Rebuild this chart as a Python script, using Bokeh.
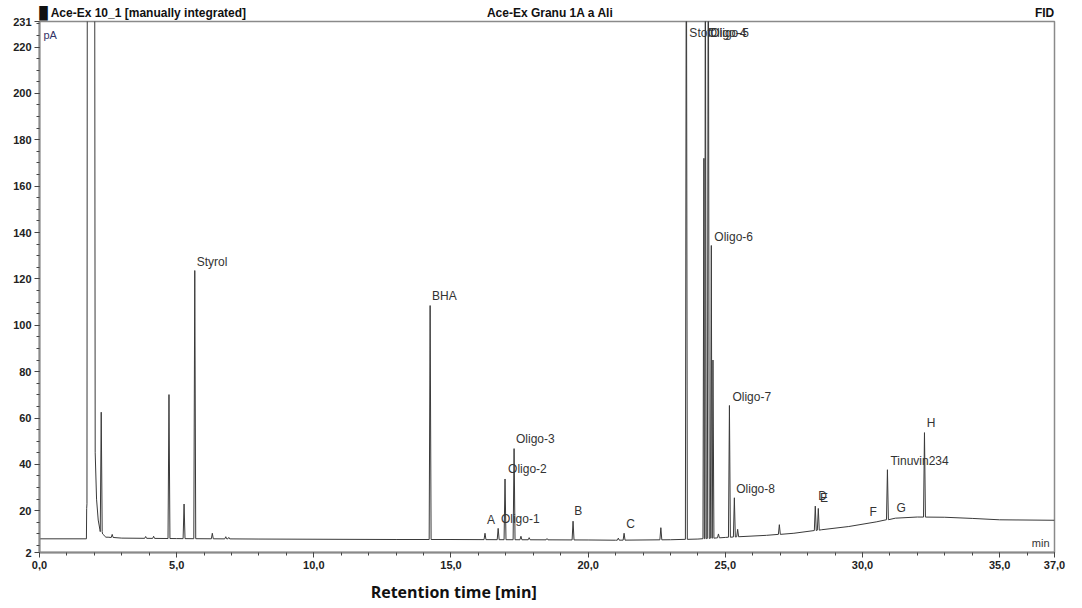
import numpy as np
from bokeh.plotting import figure
from bokeh.models import Range1d, FixedTicker, Label, ColumnDataSource, LinearAxis
from bokeh.core.properties import value
from bokeh.embed import file_html
from bokeh.resources import INLINE

# ---------------- data ----------------
# baseline knots (retention time [min], signal [pA])
base_t = [0.0, 1.70, 2.5, 3.0, 5.0, 8.0, 13.0, 15.0, 20.0, 21.0, 23.0, 24.0, 25.0,
          25.5, 26.5, 27.5, 28.5, 29.5, 30.5, 31.2, 32.0, 33.0, 34.0, 35.0, 37.0]
base_v = [7.9, 7.9, 8.6, 8.2, 8.0, 7.8, 7.6, 7.6, 7.4, 7.3, 7.5, 7.8, 8.5,
          8.8, 9.4, 10.3, 11.8, 13.2, 15.2, 16.8, 17.3, 17.2, 16.7, 16.1, 15.9]

# solvent front (off scale)
solvent_t = [1.71, 1.72, 1.73, 1.75, 2.00, 2.03, 2.08, 2.14, 2.20, 2.30, 2.42]
solvent_v = [7.9, 21.0, 23.0, 400.0, 400.0, 45.0, 25.0, 16.0, 12.0, 10.0, 8.6]

# peaks: retention time [min], apex signal [pA]
peak_t = [2.25, 2.65, 3.87, 4.16, 4.72, 5.27, 5.66, 6.30, 6.79, 6.90,
          14.24, 16.24, 16.72, 16.97, 17.30, 17.55, 17.85, 18.50, 19.45,
          21.10, 21.31, 22.65, 23.58, 24.22, 24.27, 24.38, 24.49, 24.55,
          24.75, 25.15, 25.33, 25.45, 26.97, 28.28, 28.39, 30.91, 32.26]
peak_v = [62.5, 9.8, 8.9, 9.0, 70.1, 22.9, 123.6, 10.3, 8.8, 8.5,
          108.5, 10.3, 12.4, 33.7, 46.8, 9.0, 8.4, 8.0, 15.5,
          8.2, 10.3, 12.7, 300.0, 172.0, 300.0, 300.0, 134.4, 85.0,
          10.0, 65.4, 25.6, 12.0, 14.0, 22.0, 21.0, 37.7, 53.7]

# peak annotations: text, left edge time, vertical centre [pA]
ann_text = ["Styrol", "BHA", "A", "Oligo-1", "Oligo-2", "Oligo-3", "B", "C",
            "Stoff", "Oligo-4", "Oligo-5", "Oligo-6", "Oligo-7", "Oligo-8",
            "D", "E", "F", "Tinuvin234", "G", "H"]
ann_t = [5.73, 14.31, 16.31, 16.82, 17.08, 17.37, 19.49, 21.39,
         23.69, 24.36, 24.45, 24.60, 25.26, 25.40,
         28.39, 28.45, 30.26, 31.02, 31.24, 32.34]
ann_v = [127.4, 112.5, 16.1, 16.6, 37.8, 51.0, 20.0, 14.4,
         226.0, 226.0, 226.0, 137.9, 69.1, 29.5,
         26.3, 25.6, 19.3, 41.6, 21.0, 58.0]

x_major = [0, 5, 10, 15, 20, 25, 30, 35, 37]
x_labels = ["0,0", "5,0", "10,0", "15,0", "20,0", "25,0", "30,0", "35,0", "37,0"]
y_major = [2, 20, 40, 60, 80, 100, 120, 140, 160, 180, 200, 220, 231]

header_texts = ["\u2588", "Ace-Ex 10_1  [manually integrated]", "Ace-Ex Granu 1A a Ali", "FID"]
x_title = "Retention time [min]"

# ---------------- build trace ----------------
solv_lo, solv_hi = solvent_t[0], solvent_t[-1]
pts_t = [t for t in base_t if t < solv_lo or t > solv_hi] + list(solvent_t)
pts_v = [v for t, v in zip(base_t, base_v) if t < solv_lo or t > solv_hi] + list(solvent_v)
order = np.argsort(pts_t)
ref_t = np.array(pts_t)[order]
ref_v = np.array(pts_v)[order]

hw = 0.035
all_t = list(ref_t)
all_v = list(ref_v)
for t, v in zip(peak_t, peak_v):
    b = float(np.interp(t, ref_t, ref_v))
    all_t += [t - hw, t, t + hw]
    all_v += [b, v, b]
order = np.argsort(all_t, kind="stable")
trace_t = np.array(all_t)[order]
trace_v = np.array(all_v)[order]

# ---------------- figure ----------------
p = figure(width=1082, height=608, output_backend="svg", toolbar_location=None,
           x_range=Range1d(0, 37), y_range=Range1d(2, 231),
           min_border_left=39, min_border_right=28, min_border_top=21,
           min_border_bottom=56, background_fill_color="white",
           border_fill_color="white")
p.grid.visible = False
p.outline_line_color = "#8a8a8a"
p.outline_line_width = 1.5

p.line(trace_t, trace_v, line_color="#3a3a3a", line_width=1)

src = ColumnDataSource(dict(x=ann_t, y=ann_v, text=ann_text))
p.text(x="x", y="y", text="text", source=src, text_font=value("Liberation Sans"),
       text_font_size="12px", text_color="#333333", text_baseline="middle",
       text_align="left")

# axes
p.xaxis.ticker = FixedTicker(ticks=x_major, minor_ticks=list(range(0, 38)))
p.xaxis.major_label_overrides = {k: v for k, v in zip(x_major, x_labels)}
p.yaxis.ticker = FixedTicker(ticks=y_major, minor_ticks=list(range(5, 231, 5)))
for ax in (p.xaxis[0], p.yaxis[0]):
    ax.axis_line_color = "#8a8a8a"
    ax.axis_line_width = 2
    ax.major_tick_in = 0
    ax.major_tick_out = 5
    ax.minor_tick_in = 0
    ax.minor_tick_out = 3
    ax.major_tick_line_color = "#444444"
    ax.minor_tick_line_color = "#444444"
    ax.major_label_text_font = "Liberation Sans"
    ax.major_label_text_font_style = "bold"
    ax.major_label_text_font_size = "11px"
    ax.major_label_text_color = "#222222"
    ax.major_label_standoff = 3

def plain_axis(ticks, texts, standoff, font, size):
    return LinearAxis(ticker=FixedTicker(ticks=ticks, minor_ticks=[]),
                      major_label_overrides={k: v for k, v in zip(ticks, texts)},
                      axis_line_color=None, major_tick_line_color=None,
                      minor_tick_line_color=None, major_tick_in=0, major_tick_out=0,
                      minor_tick_in=0, minor_tick_out=0,
                      major_label_standoff=standoff,
                      major_label_text_font=font,
                      major_label_text_font_style="bold",
                      major_label_text_font_size=size,
                      major_label_text_color="#111111")

# header row drawn as a tick-less axis above the frame
header_pos = [0.15, 4.03, 18.62, 36.64]
p.add_layout(plain_axis(header_pos, header_texts, 2, "Liberation Sans", "12px"), "above")

# x title drawn as a second tick-less axis below
title_pos = [15.1]
p.add_layout(plain_axis(title_pos, [x_title], 9, "Open Sans", "16px"), "below")

# in-frame unit labels
FH = 608 - 21 - 56
p.add_layout(Label(x=4, y=FH - 13, x_units="screen", y_units="screen", text="pA",
                   text_font="Liberation Sans", text_font_size="11px",
                   text_baseline="middle", text_color="#333366"))
p.add_layout(Label(x=1010, y=10, x_units="screen", y_units="screen", text="min",
                   text_font="Liberation Sans", text_font_size="11px",
                   text_align="right", text_baseline="middle", text_color="#333333"))

open("out.html", "w").write(file_html(p, INLINE))
